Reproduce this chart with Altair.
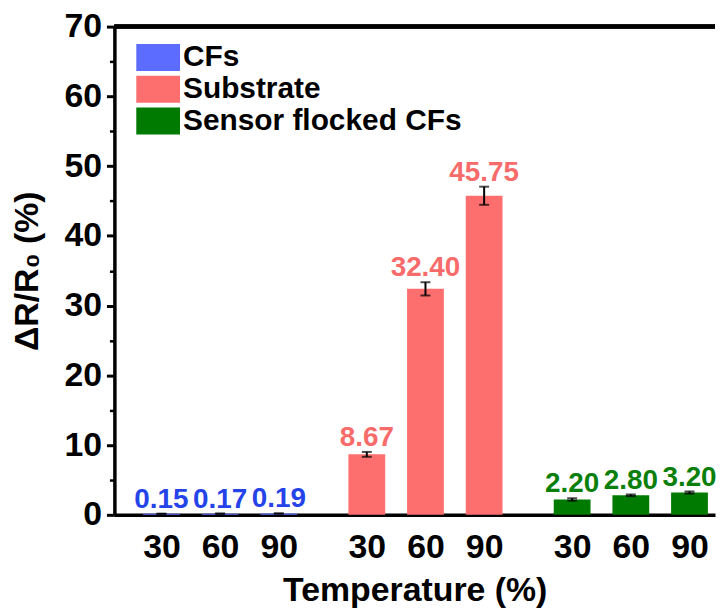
import altair as alt
import pandas as pd

# ---- data ----
series = ["CFs", "Substrate", "Sensor flocked CFs"]
temps = ["30", "60", "90"]
cfs_vals = [0.15, 0.17, 0.19]
sub_vals = [8.67, 32.40, 45.75]
sensor_vals = [2.20, 2.80, 3.20]
cfs_err = [0.01, 0.01, 0.01]
sub_err = [0.35, 0.95, 1.30]
sensor_err = [0.18, 0.12, 0.15]

bar_colors = ["#5b6cff", "#fd6f6f", "#007a00"]
text_colors = ["#2443e8", "#f76b6b", "#0b7f0b"]
FONT = "Liberation Sans"
GAP = 0.5  # extra empty slot fraction between groups

rows = []
for gi, (s, vals, errs) in enumerate(zip(series, [cfs_vals, sub_vals, sensor_vals],
                                         [cfs_err, sub_err, sensor_err])):
    for ti, (t, v, e) in enumerate(zip(temps, vals, errs)):
        rows.append(dict(series=s, temp=t, value=v, err=e,
                         pos=gi * (len(temps) + GAP) + ti,
                         low=v - e, high=v + e))
df = pd.DataFrame(rows)

tick_vals = [float(p) for p in df["pos"]]
label_expr = "[" + ",".join(f"'{t}'" for t in temps) + f"][round(datum.value % {len(temps) + GAP})]"

x_enc = alt.X(
    "pos:Q",
    scale=alt.Scale(domain=[-0.717, 9.35], nice=False, zero=False),
    axis=alt.Axis(values=tick_vals, labelExpr=label_expr, ticks=False, grid=False,
                  domainWidth=3.5, domainColor="black",
                  labelFontSize=34, labelFont=FONT, labelFontWeight="bold",
                  labelColor="black", labelPadding=16, labelFlush=False,
                  labelOverlap=False,
                  title="Temperature (%)", titleFontSize=34, titleFont=FONT,
                  titleFontWeight="bold", titleColor="black", titlePadding=9),
)

y_scale = alt.Scale(domain=[0, 70], nice=False)

base = alt.Chart(df)

bars = base.mark_bar(size=37).encode(
    x=x_enc,
    y=alt.Y("value:Q", scale=y_scale,
            axis=alt.Axis(values=list(range(0, 71, 10)), grid=False,
                          domainWidth=3.5, domainColor="black",
                          tickSize=8, tickWidth=3, tickColor="black",
                          labelFontSize=34, labelFont=FONT, labelFontWeight="bold",
                          labelColor="black", labelPadding=5,
                          title="ΔR/R₀ (%)", titleFontSize=34, titleFont=FONT,
                          titleFontWeight="bold", titleColor="black",
                          titlePadding=20, orient="left")),
    color=alt.Color("series:N", scale=alt.Scale(domain=series, range=bar_colors),
                    legend=alt.Legend(title=None, orient="none", legendX=29, legendY=16,
                                      symbolType="M-1.57,-0.97H1.57V0.97H-1.57Z",
                                      symbolSize=784,
                                      symbolStrokeWidth=0, symbolOpacity=1,
                                      labelFontSize=30, labelFont=FONT,
                                      labelFontWeight="bold", labelColor="black",
                                      rowPadding=2, labelOffset=10, padding=0,
                                      labelLimit=400)),
)

err_rule = base.mark_rule(strokeWidth=2, color="black").encode(
    x=x_enc,
    y=alt.Y("low:Q", scale=y_scale,
            axis=alt.Axis(values=list(range(5, 70, 10)), labels=False, title=None,
                          domain=False, grid=False, tickSize=5, tickWidth=2.5,
                          tickColor="black", orient="left")),
    y2="high:Q",
)

cap_low = base.mark_tick(size=10, thickness=2, color="black", orient="horizontal").encode(
    x=x_enc, y=alt.Y("low:Q", scale=y_scale, axis=None))
cap_high = base.mark_tick(size=10, thickness=2, color="black", orient="horizontal").encode(
    x=x_enc, y=alt.Y("high:Q", scale=y_scale, axis=None))

labels = base.mark_text(dy=-6, baseline="alphabetic", fontSize=28, fontWeight="bold",
                        font=FONT).encode(
    x=x_enc,
    y=alt.Y("high:Q", scale=y_scale, axis=None),
    text=alt.Text("value:Q", format=".2f"),
    color=alt.Color("series:N", scale=alt.Scale(domain=series, range=text_colors),
                    legend=None),
)

top_frame = alt.Chart(df).mark_rule(strokeWidth=3.5, color="black").encode(
    y=alt.YDatum(70, scale=y_scale, axis=None))

chart = alt.layer(bars, err_rule, cap_low, cap_high, labels, top_frame).resolve_scale(
    color="independent").resolve_axis(y="independent").properties(
    width=604, height=491,
    autosize=alt.AutoSizeParams(type="none"),
    padding={"left": 107, "top": 17, "right": 1, "bottom": 94},
).configure_view(stroke=None)

chart.save("out.html", embed_options={"renderer": "svg", "actions": False})
